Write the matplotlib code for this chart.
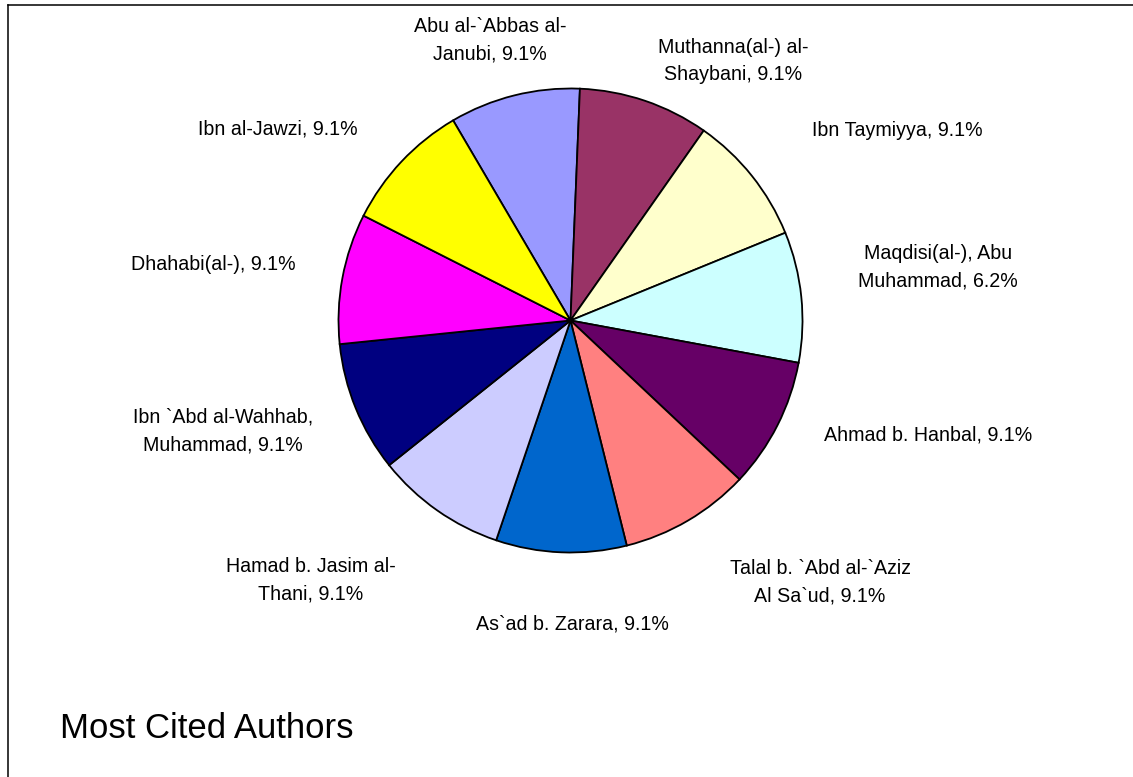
import matplotlib
matplotlib.use("Agg")
import matplotlib.pyplot as plt
from matplotlib.lines import Line2D

# ---- data -------------------------------------------------------------
authors = [
    "Abu al-`Abbas al-\nJanubi",
    "Muthanna(al-) al-\nShaybani",
    "Ibn Taymiyya",
    "Maqdisi(al-), Abu\nMuhammad",
    "Ahmad b. Hanbal",
    "Talal b. `Abd al-`Aziz\nAl Sa`ud",
    "As`ad b. Zarara",
    "Hamad b. Jasim al-\nThani",
    "Ibn `Abd al-Wahhab,\nMuhammad",
    "Dhahabi(al-)",
    "Ibn al-Jawzi",
]
citations = [1, 1, 1, 1, 1, 1, 1, 1, 1, 1, 1]
label_pct = [9.1, 9.1, 9.1, 6.2, 9.1, 9.1, 9.1, 9.1, 9.1, 9.1, 9.1]
title = "Most Cited Authors"

# ---- styling ----------------------------------------------------------
colors = ["#9999FF", "#993366", "#FFFFCC", "#CCFFFF", "#660066", "#FF8080",
          "#0066CC", "#CCCCFF", "#000080", "#FF00FF", "#FFFF00"]

W, H, DPI = 1133, 777, 100
plt.rcParams["font.family"] = ["Liberation Sans", "DejaVu Sans"]

fig = plt.figure(figsize=(W / DPI, H / DPI), dpi=DPI, facecolor="white")

# pie placement in pixels (centre, radius)
cx, cy, r = 570.5, 320.5, 232.0
ax = fig.add_axes([(cx - r) / W, (H - cy - r) / H, 2 * r / W, 2 * r / H])
ax.pie(citations, colors=colors, startangle=120.4, counterclock=False,
       radius=1.0, wedgeprops=dict(edgecolor="black", linewidth=1.3))
ax.set_xlim(-1, 1)
ax.set_ylim(-1, 1)
ax.axis("off")

# label centres in pixels
label_pos = [(490, 40), (733, 61), (897, 131), (938, 267), (928, 435),
             (820, 582), (572, 624), (311, 580), (223, 431), (213, 264),
             (278, 129)]
for name, pct, (lx, ly) in zip(authors, label_pct, label_pos):
    fig.text(lx / W, 1 - ly / H, f"{name}, {pct:.1f}%", ha="center",
             va="center", multialignment="center", fontsize=14.1,
             linespacing=1.55, color="black")

fig.text(60 / W, 1 - 738 / H, title, ha="left", va="baseline",
         fontsize=25, color="black")

# chart-area frame (top and left edges)
fig.add_artist(Line2D([8 / W, 1.0], [1 - 5 / H, 1 - 5 / H],
                      transform=fig.transFigure, color="black", lw=1.1))
fig.add_artist(Line2D([8 / W, 8 / W], [0.0, 1 - 5 / H],
                      transform=fig.transFigure, color="black", lw=1.1))

fig.savefig("out.png", dpi=DPI, facecolor="white")
